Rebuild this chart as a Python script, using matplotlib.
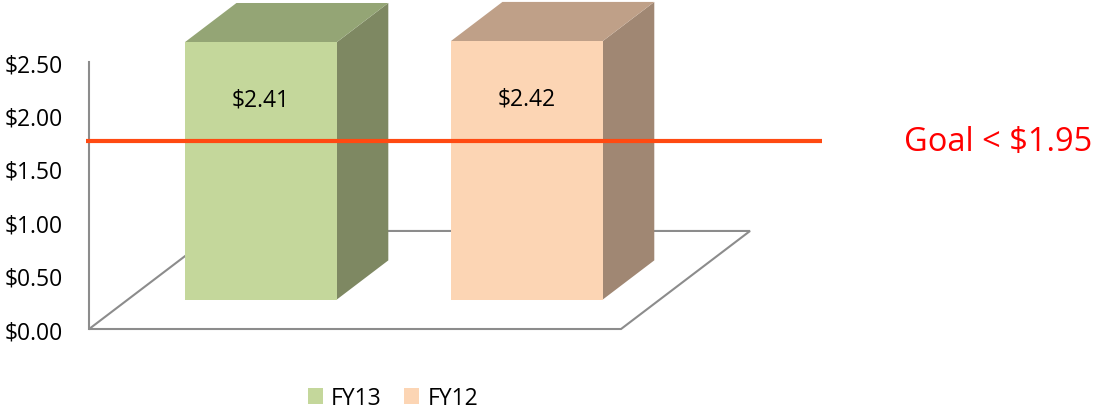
import matplotlib.pyplot as plt
from matplotlib.patches import Polygon, Patch
from matplotlib.ticker import FuncFormatter

plt.rcParams['font.family'] = ['Open Sans', 'DejaVu Sans']

categories = ['FY13', 'FY12']
values = [2.41, 2.42]
value_labels = ['$2.41', '$2.42']
yticks = [0.0, 0.5, 1.0, 1.5, 2.0, 2.5]
goal_label = 'Goal < $1.95'
goal_line_level = 1.76

# front / top / side shades for each series
face_colors = ['#C4D79B', '#FCD5B4']
top_colors = ['#94A575', '#BFA088']
side_colors = ['#7E8862', '#A08773']

# oblique projection: full floor depth expressed in data units
DEPTH_X = 0.485
DEPTH_Y = 0.918
BAR_D0, BAR_D1 = 0.3, 0.7
BAR_W = 0.571
GRAY = '#8c8c8c'


def proj(x, v, d):
    return (x + d * DEPTH_X, v + d * DEPTH_Y)


fig = plt.figure(figsize=(10.95, 4.10), dpi=100)
ax = fig.add_axes([0, 0, 1, 1])
ax.set_xlim(-0.835, 3.282)
ax.set_ylim(-0.749, 3.090)

# floor
n = len(categories)
floor = [proj(-0.5, 0, 0), proj(n - 0.5, 0, 0), proj(n - 0.5, 0, 1), proj(-0.5, 0, 1)]
ax.add_patch(Polygon(floor, closed=True, facecolor='white', edgecolor=GRAY, lw=1.5, zorder=1))

for i, v in enumerate(values):
    x0, x1 = i - BAR_W / 2, i + BAR_W / 2
    front = [proj(x0, 0, BAR_D0), proj(x1, 0, BAR_D0), proj(x1, v, BAR_D0), proj(x0, v, BAR_D0)]
    side = [proj(x1, 0, BAR_D0), proj(x1, 0, BAR_D1), proj(x1, v, BAR_D1), proj(x1, v, BAR_D0)]
    top = [proj(x0, v, BAR_D0), proj(x1, v, BAR_D0), proj(x1, v, BAR_D1), proj(x0, v, BAR_D1)]
    ax.add_patch(Polygon(side, closed=True, facecolor=side_colors[i], edgecolor='none', zorder=2))
    ax.add_patch(Polygon(top, closed=True, facecolor=top_colors[i], edgecolor='none', zorder=2))
    ax.add_patch(Polygon(front, closed=True, facecolor=face_colors[i], edgecolor='none', zorder=3))
    lx, ly = proj(i, v, BAR_D0)
    ax.text(lx, ly - 0.54, value_labels[i], ha='center', va='center', fontsize=16.5, zorder=4)

# value axis
for s in ['top', 'right', 'bottom']:
    ax.spines[s].set_visible(False)
ax.spines['left'].set_position(('data', -0.5))
ax.spines['left'].set_bounds(0, 2.5)
ax.spines['left'].set_color(GRAY)
ax.spines['left'].set_linewidth(1.5)
ax.set_yticks(yticks)
ax.yaxis.set_major_formatter(FuncFormatter(lambda y, _: '${:.2f}'.format(y)))
ax.tick_params(axis='y', length=0, pad=19, labelsize=16.5)
ax.set_xticks([])
ax.patch.set_alpha(0)

# goal line
ax.plot([-0.511, 2.256], [goal_line_level, goal_line_level], color='#FF4A12', lw=3,
        solid_capstyle='butt', zorder=5)
ax.text(3.270, goal_line_level, goal_label, color='#FF0000', fontsize=23.5, ha='right', va='center')

handles = [Patch(facecolor=c, edgecolor='none', label=l) for c, l in zip(face_colors, categories)]
fig.legend(handles=handles, loc='center', bbox_to_anchor=(393 / 1095, 1 - 399 / 410), ncol=2,
           frameon=False, fontsize=16.5, handlelength=0.65, handleheight=0.65,
           columnspacing=1.0, handletextpad=0.35)

fig.savefig('out.png', dpi=100)
